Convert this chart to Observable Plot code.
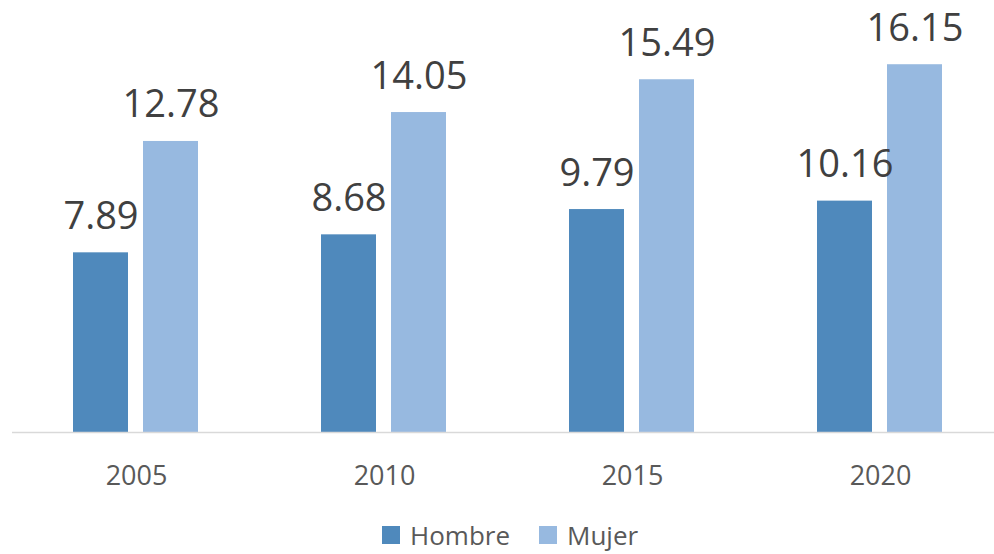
<!DOCTYPE html>
<html>
<head>
<meta charset="utf-8">
<script src="https://cdn.jsdelivr.net/npm/d3@7"></script>
<script src="https://cdn.jsdelivr.net/npm/@observablehq/plot@0.6"></script>
<style>
  html, body { margin: 0; padding: 0; background: #fff; overflow: hidden; width: 994px; height: 554px; }
  #legend { display: flex; align-items: center; padding-left: 382px; padding-top: 15px; height: 30px; line-height: 30px; font-family: "Open Sans", sans-serif; font-size: 26px; color: #595959; }
  #legend .sw { width: 18px; height: 18px; margin-right: 10px; }
  #legend .item { display: flex; align-items: center; margin-right: 29px; }
</style>
</head>
<body>
<div id="chart"></div>
<div id="legend"></div>
<script>
const years = ["2005", "2010", "2015", "2020"];
const series = ["Hombre", "Mujer"];
const hombre = [7.89, 8.68, 9.79, 10.16];
const mujer = [12.78, 14.05, 15.49, 16.15];
const colors = ["#4F89BC", "#97B9E0"];

const data = [];
years.forEach((y, i) => {
  data.push({year: y, sex: "Hombre", value: hombre[i]});
  data.push({year: y, sex: "Mujer", value: mujer[i]});
});

const font = "'Open Sans', sans-serif";
const plot = Plot.plot({
  width: 994,
  height: 505,
  marginTop: 0,
  marginBottom: 73,
  marginLeft: 10,
  marginRight: 0,
  style: {fontFamily: font, background: "#fff", overflow: "hidden"},
  fx: {domain: years, range: [10, 1005], paddingInner: 0, paddingOuter: 0, label: null},
  x: {domain: series, paddingInner: 0.21, paddingOuter: 0.857, axis: null},
  y: {domain: [0, 18.97], axis: null},
  color: {domain: series, range: colors},
  marks: [
    Plot.barY(data, {fx: "year", x: "sex", y: "value", fill: "sex"}),
    Plot.ruleY([0], {stroke: "#D9D9D9", strokeWidth: 1.5}),
    Plot.text(data, {fx: "year", x: "sex", y: "value", text: d => d.value.toFixed(2),
      lineAnchor: "bottom", dy: -24, fontSize: 38, fill: "#404040", fontFamily: font}),
    Plot.axisFx({anchor: "bottom", tickSize: 0, tickPadding: 33, fontSize: 27, color: "#595959", label: null, fontFamily: font})
  ]
});
document.getElementById("chart").appendChild(plot);

const legend = document.getElementById("legend");
series.forEach((s, i) => {
  const item = document.createElement("div");
  item.className = "item";
  const sw = document.createElement("div");
  sw.className = "sw";
  sw.style.background = colors[i];
  const t = document.createElement("span");
  t.textContent = s;
  item.appendChild(sw);
  item.appendChild(t);
  legend.appendChild(item);
});
</script>
</body>
</html>
